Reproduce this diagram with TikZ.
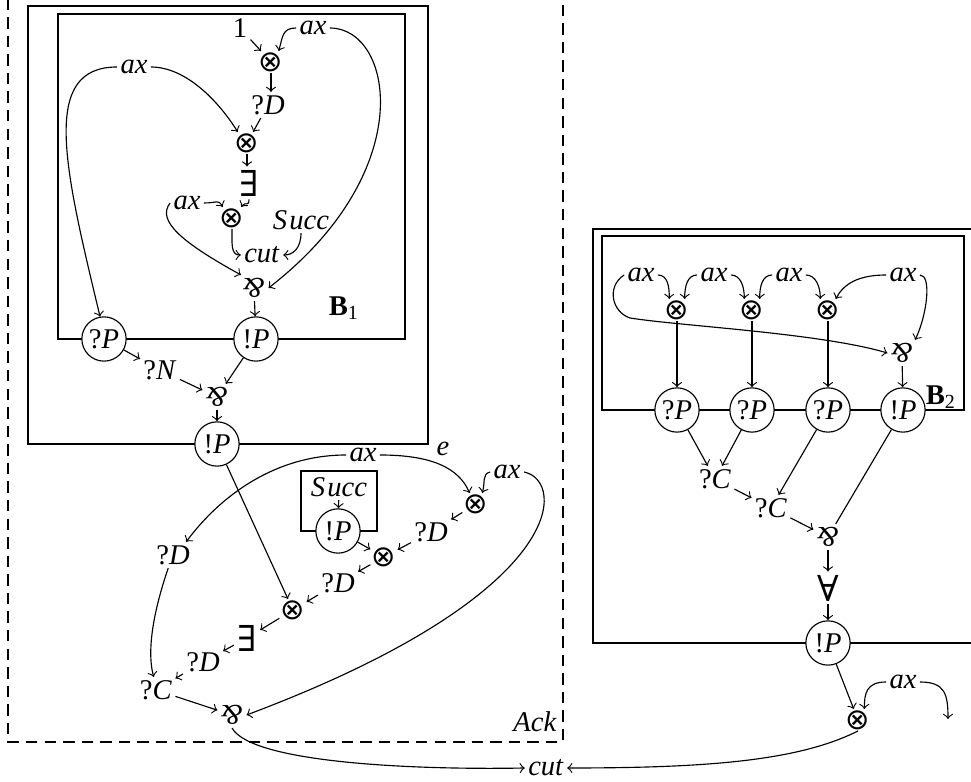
\documentclass[tikz,border=0pt]{standalone}
\usepackage{fontspec}
\setmainfont{Liberation Serif}
\newfontfamily\symfont{DejaVu Sans}
\newfontfamily\qfont{DejaVu Serif}
\usepackage{graphicx}
\newcommand{\parrsym}{\rotatebox[origin=c]{180}{\textit{\&}}}
\newcommand{\tensym}{{\symfont\fontsize{10.2}{12}\selectfont ⊗}}
\newcommand{\exsym}{{\qfont\fontsize{12.5}{14}\selectfont ∃}}
\newcommand{\fasym}{{\qfont\fontsize{12.5}{14}\selectfont ∀}}
\tikzset{
  lbl/.style={inner sep=1pt},
  tens/.style={inner sep=0.3pt},
  prom/.style={circle, draw, fill=white, minimum size=15.5pt, inner sep=0pt},
  conn/.style={->},
  dashbox/.style={dash pattern=on 4pt off 2.5pt},
}
\begin{document}
\begin{tikzpicture}[x=0.35pt,y=-0.35pt]
\useasboundingbox (0,0) rectangle (971,782);
\clip (0,0) rectangle (971,782);
% boxes
\draw[dashbox] (8,-20) -- (8,742) -- (563,742) -- (563,-20);
\draw (28,6) rectangle (428,444);
\draw (58,14) rectangle (405,339);
\draw (301,471) rectangle (377,531);
\draw (593,229) rectangle (1000,643);
\draw (602,236) rectangle (964,410);
% B1 nodes
\node[lbl] (oneT) at (240,28) {1};
\node[lbl] (axT) at (313,28) {\textit{ax}};
\node[tens] (ot1) at (271,62) {\tensym};
\node[lbl] (qD1) at (268,105) {?\textit{D}};
\node[lbl] (axL) at (134,67) {\textit{ax}};
\node[tens] (ot2) at (247,143) {\tensym};
\node[lbl] (ex1) at (249,183) {\exsym};
\node[lbl] (axM) at (187,203) {\textit{ax}};
\node[tens] (ot3) at (232,218) {\tensym};
\node[lbl] (succ1) at (301,220) {\textit{S\kern0.08em ucc}};
\node[lbl] (cut1) at (262,255) {\textit{cut}};
\node[lbl] (parT) at (254,288) {\parrsym};
\node (lB1) at (344,308) {\textbf{B}\textsubscript{1}};
\node[prom] (qP1) at (104,339) {?\textit{P}};
\node[prom] (bP1) at (256,339) {!\textit{P}};
\node[lbl] (qN) at (160,370) {?\textit{N}};
\node[lbl] (parM) at (217,397) {\parrsym};
\node[prom] (bP2) at (217,444) {!\textit{P}};
% Ack nodes
\node[lbl] (axA) at (363,455) {\textit{ax}};
\node[lbl] (eLab) at (443,449) {\textit{e}};
\node[lbl] (succ2) at (339,487) {\textit{S\kern0.08em ucc}};
\node[prom] (bP3) at (338,531) {!\textit{P}};
\node[lbl] (axR) at (507,472) {\textit{ax}};
\node[tens] (otA) at (476,504) {\tensym};
\node[lbl] (qDa) at (431,532) {?\textit{D}};
\node[tens] (otB) at (384,557) {\tensym};
\node[lbl] (qDb) at (338,583) {?\textit{D}};
\node[tens] (otC) at (293,610) {\tensym};
\node[lbl] (ex2) at (247,638) {\exsym};
\node[lbl] (qDc) at (203,662) {?\textit{D}};
\node[lbl] (qC) at (156,690) {?\textit{C}};
\node[lbl] (parB) at (232,715) {\parrsym};
\node[lbl] (qDL) at (173,555) {?\textit{D}};
\node (ack) at (535,722) {\textit{Ack}};
\node[lbl] (cutB) at (546,768) {\textit{cut}};
% B2 nodes
\node[lbl] (ax1) at (641,275) {\textit{ax}};
\node[lbl] (ax2) at (714,275) {\textit{ax}};
\node[lbl] (ax3) at (789,275) {\textit{ax}};
\node[lbl] (ax4) at (903,275) {\textit{ax}};
\node[tens] (ox1) at (677,310) {\tensym};
\node[tens] (ox2) at (752,310) {\tensym};
\node[tens] (ox3) at (828,310) {\tensym};
\node[lbl] (parB2) at (902,353) {\parrsym};
\node[prom] (qP2a) at (677,410) {?\textit{P}};
\node[prom] (qP2b) at (752,410) {?\textit{P}};
\node[prom] (qP2c) at (828,410) {?\textit{P}};
\node[prom] (bP4) at (903,410) {!\textit{P}};
\node (lB2) at (941,397) {\textbf{B}\textsubscript{2}};
\node[lbl] (qC1) at (715,479) {?\textit{C}};
\node[lbl] (qC2) at (771,508) {?\textit{C}};
\node[lbl] (parC) at (828,537) {\parrsym};
\node[lbl] (fa) at (828,588) {\fasym};
\node[prom] (bP5) at (828,643) {!\textit{P}};
\node[tens] (otD) at (858,720) {\tensym};
\node[lbl] (axD) at (903,682) {\textit{ax}};
\coordinate (endD) at (948,719);
% B1 connectors
\draw[conn] (oneT) -- (ot1);
\draw[conn] (axT.west) .. controls +(-14,0) and +(4,-14) .. (ot1.55);
\draw[conn] (axT.east) .. controls +(63,0) and +(152,-118) .. (parT.east);
\draw[conn] (ot1) -- (ot1 |- qD1.north);
\draw[conn] (qD1) -- (ot2);
\draw[conn] (axL.east) .. controls +(36,0) and +(-18,-29) .. (ot2.130);
\draw[conn] (axL.west) .. controls +(-77,0) and +(-36,-150) .. (qP1.100);
\draw[conn] (ot2) -- (ot2 |- ex1.north);
\draw[conn] (ex1.south) .. controls +(0,8) and +(4,-6) .. (ot3.50);
\draw[conn] (axM.east) .. controls +(14,0) and +(-5,-8) .. (ot3.130);
\draw[conn] (axM.west) .. controls +(-14,18) and +(-58,-32) .. (parT.135);
\draw[conn] (ot3.south) .. controls +(0,15) and +(-10,0) .. (cut1.west);
\draw[conn] (succ1.south) .. controls +(0,15) and +(10,0) .. (cut1.east);
\draw[conn] (parT) -- (bP1);
\draw[conn] (qP1) -- (qN);
\draw[conn] (qN) -- (parM);
\draw[conn] (bP1) -- (parM);
\draw[conn] (parM) -- (bP2);
% Ack connectors
\draw[conn] (bP2) -- (otC);
\draw[conn] (axA.west) .. controls +(-70,0) and +(35,-47) .. (qDL.45);
\draw[conn] (axA.east) .. controls +(52,0) and +(-11,-25) .. (otA.120);
\draw[conn] (axR.west) .. controls +(-8,2) and +(3,-12) .. (otA.60);
\draw[conn] (axR.east) .. controls +(42,8) and +(325,-122) .. (parB.east);
\draw[conn] (otA) -- (qDa);
\draw[conn] (qDa) -- (otB);
\draw[conn] (succ2) -- (bP3);
\draw[conn] (bP3) -- (otB);
\draw[conn] (otB) -- (qDb);
\draw[conn] (qDb) -- (otC);
\draw[conn] (otC) -- (ex2);
\draw[conn] (ex2) -- (qDc);
\draw[conn] (qDc) -- (qC);
\draw[conn] (qDL.250) .. controls +(-12,35) and +(-8,-30) .. (qC.100);
\draw[conn] (qC) -- (parB);
\draw[conn] (parB.south) .. controls +(20,35) and +(-110,2) .. (cutB.west);
% B2 connectors
\draw[conn] (ax1.east) .. controls +(10,0) and +(0,-12) .. (ox1.125);
\draw[conn] (ax2.west) .. controls +(-10,0) and +(0,-12) .. (ox1.55);
\draw[conn] (ax2.east) .. controls +(10,0) and +(0,-12) .. (ox2.125);
\draw[conn] (ax3.west) .. controls +(-10,0) and +(0,-12) .. (ox2.55);
\draw[conn] (ax3.east) .. controls +(10,0) and +(0,-12) .. (ox3.125);
\draw[conn] (ax4.west) .. controls +(-28,0) and +(8,-15) .. (ox3.55);
\draw[conn] (ax4.east) .. controls +(12,0) and +(12,-25) .. (parB2.45);
\draw[conn] (ax1.west) .. controls +(-18,12) and +(-18,-6) .. (630,318) .. controls +(50,8) and +(-68,-20) .. (parB2.west);
\draw[conn] (ox1) -- (qP2a);
\draw[conn] (ox2) -- (qP2b);
\draw[conn] (ox3) -- (qP2c);
\draw[conn] (parB2) -- (bP4);
\draw[conn] (qP2a) -- (qC1);
\draw[conn] (qP2b) -- (qC1);
\draw[conn] (qP2c) -- (qC2);
\draw[conn] (qC1) -- (qC2);
\draw[conn] (qC2) -- (parC);
\draw (bP4) -- (parC);
\draw[conn] (parC) -- (fa);
\draw[conn] (fa) -- (bP5);
\draw[conn] (bP5) -- (otD);
\draw[conn] (axD.west) .. controls +(-20,0) and +(0,-15) .. (otD.60);
\draw[conn] (axD.east) .. controls +(25,0) and +(0,-25) .. (endD);
\draw[conn] (otD.south) .. controls +(-60,30) and +(140,0) .. (cutB.east);
\end{tikzpicture}
\end{document}
